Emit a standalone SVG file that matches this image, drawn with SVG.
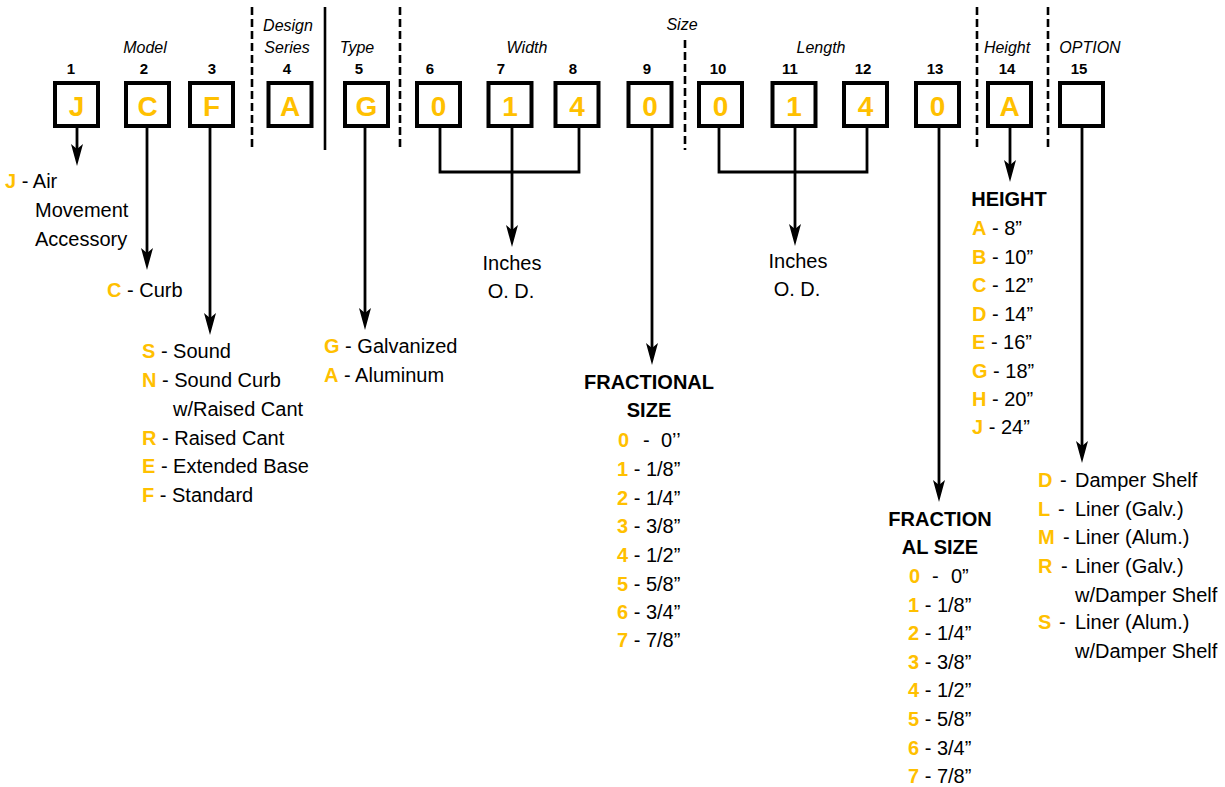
<svg xmlns="http://www.w3.org/2000/svg" width="1225" height="787" viewBox="0 0 1225 787">
<style>
text{font-family:"Liberation Sans",Arial,sans-serif;fill:#000}
.h{font-size:16px;font-style:italic;text-anchor:middle}
.n{font-size:15px;font-weight:bold;text-anchor:middle}
.bl{font-size:28px;font-weight:bold;fill:#FFC000;text-anchor:middle}
.box{fill:#fff;stroke:#000;stroke-width:4}
.t{font-size:20px}
.k{font-weight:bold;fill:#FFC000}
.b{font-size:20px;font-weight:bold;text-anchor:middle}
.c{font-size:20px;text-anchor:middle}
.ln{fill:none;stroke:#000;stroke-width:2.8}
.ar{fill:none;stroke:#000;stroke-width:2.8;marker-end:url(#ah)}
.sep{stroke:#000;stroke-width:2.6;stroke-dasharray:8 4}
.sol{stroke:#000;stroke-width:2.6}
</style>
<defs>
<marker id="ah" markerUnits="userSpaceOnUse" viewBox="0 -7 23 14" markerWidth="23" markerHeight="14" refX="5" refY="0" orient="auto">
<path d="M0,-6 L22,0 L0,6 L5,0 Z" fill="#000"/>
</marker>
</defs>
<rect width="1225" height="787" fill="#fff"/>

<g id="separators">
<line class="sep" x1="252" y1="7" x2="252" y2="150"/>
<line class="sol" x1="325" y1="7" x2="325" y2="150"/>
<line class="sep" x1="400" y1="7" x2="400" y2="150"/>
<line class="sep" x1="685" y1="40" x2="685" y2="150"/>
<line class="sep" x1="977" y1="7" x2="977" y2="148"/>
<line class="sep" x1="1048" y1="7" x2="1048" y2="148"/>
</g>

<g id="headers">
<text class="h" x="145" y="53">Model</text>
<text class="h" x="288" y="31">Design</text>
<text class="h" x="287" y="53">Series</text>
<text class="h" x="357" y="53">Type</text>
<text class="h" x="682" y="30">Size</text>
<text class="h" x="527" y="53">Width</text>
<text class="h" x="821" y="53">Length</text>
<text class="h" x="1007" y="53">Height</text>
<text class="h" x="1090" y="53">OPTION</text>
</g>

<g id="connectors">
<line class="ar" x1="77" y1="126" x2="77" y2="149"/>
<line class="ar" x1="147" y1="126" x2="147" y2="253"/>
<line class="ar" x1="210" y1="126" x2="210" y2="318"/>
<line class="ar" x1="365" y1="126" x2="365" y2="313"/>
<polyline class="ln" points="440,126 440,172 579,172 579,126"/>
<line class="ar" x1="512" y1="126" x2="512" y2="230"/>
<line class="ar" x1="652" y1="126" x2="652" y2="348"/>
<polyline class="ln" points="719,126 719,172 867,172 867,126"/>
<line class="ar" x1="795" y1="126" x2="795" y2="229"/>
<line class="ar" x1="939" y1="126" x2="939" y2="485"/>
<line class="ar" x1="1010" y1="126" x2="1010" y2="165"/>
<line class="ar" x1="1082" y1="126" x2="1082" y2="446"/>
</g>

<g id="n1"><text class="n" x="71" y="74">1</text><rect class="box" x="55" y="83" width="43" height="43"/><text class="bl" x="76.5" y="116">J</text></g>
<g id="n2"><text class="n" x="144" y="74">2</text><rect class="box" x="126" y="83" width="43" height="43"/><text class="bl" x="147.5" y="116">C</text></g>
<g id="n3"><text class="n" x="212" y="74">3</text><rect class="box" x="190" y="83" width="43" height="43"/><text class="bl" x="211.5" y="116">F</text></g>
<g id="n4"><text class="n" x="287" y="74">4</text><rect class="box" x="268.5" y="83" width="43" height="43"/><text class="bl" x="290" y="116">A</text></g>
<g id="n5"><text class="n" x="359" y="74">5</text><rect class="box" x="345" y="83" width="43" height="43"/><text class="bl" x="366.5" y="116">G</text></g>
<g id="n6"><text class="n" x="430" y="74">6</text><rect class="box" x="417" y="83" width="43" height="43"/><text class="bl" x="438.5" y="116">0</text></g>
<g id="n7"><text class="n" x="501" y="74">7</text><rect class="box" x="488.5" y="83" width="43" height="43"/><text class="bl" x="510" y="116">1</text></g>
<g id="n8"><text class="n" x="573" y="74">8</text><rect class="box" x="555.5" y="83" width="43" height="43"/><text class="bl" x="577" y="116">4</text></g>
<g id="n9"><text class="n" x="647" y="74">9</text><rect class="box" x="628.5" y="83" width="43" height="43"/><text class="bl" x="650" y="116">0</text></g>
<g id="n10"><text class="n" x="718" y="74">10</text><rect class="box" x="699" y="83" width="43" height="43"/><text class="bl" x="720.5" y="116">0</text></g>
<g id="n11"><text class="n" x="790" y="74">11</text><rect class="box" x="772.5" y="83" width="43" height="43"/><text class="bl" x="794" y="116">1</text></g>
<g id="n12"><text class="n" x="863" y="74">12</text><rect class="box" x="844" y="83" width="43" height="43"/><text class="bl" x="865.5" y="116">4</text></g>
<g id="n13"><text class="n" x="935" y="74">13</text><rect class="box" x="916" y="83" width="43" height="43"/><text class="bl" x="937.5" y="116">0</text></g>
<g id="n14"><text class="n" x="1007" y="74">14</text><rect class="box" x="988" y="83" width="43" height="43"/><text class="bl" x="1009.5" y="116">A</text></g>
<g id="n15"><text class="n" x="1079" y="74">15</text><rect class="box" x="1060" y="83" width="43" height="43"/></g>

<g id="model-j">
<text class="t" x="5" y="188"><tspan class="k">J</tspan> - Air</text>
<text class="t" x="35" y="217">Movement</text>
<text class="t" x="35" y="246">Accessory</text>
</g>
<g id="model-c"><text class="t" x="107" y="297"><tspan class="k">C</tspan> - Curb</text></g>
<g id="model-f">
<text class="t" x="142" y="358"><tspan class="k">S</tspan> - Sound</text>
<text class="t" x="142" y="387"><tspan class="k">N</tspan> - Sound Curb</text>
<text class="t" x="173" y="416">w/Raised Cant</text>
<text class="t" x="142" y="445"><tspan class="k">R</tspan> - Raised Cant</text>
<text class="t" x="142" y="473"><tspan class="k">E</tspan> - Extended Base</text>
<text class="t" x="142" y="502"><tspan class="k">F</tspan> - Standard</text>
</g>
<g id="type-g">
<text class="t" x="324" y="353"><tspan class="k">G</tspan> - Galvanized</text>
<text class="t" x="324" y="382"><tspan class="k">A</tspan> - Aluminum</text>
</g>
<g id="width-od">
<text class="c" x="512" y="270">Inches</text>
<text class="c" x="511" y="298">O. D.</text>
</g>
<g id="length-od">
<text class="c" x="798" y="268">Inches</text>
<text class="c" x="797" y="296">O. D.</text>
</g>
<g id="frac1">
<text class="b" x="649" y="389">FRACTIONAL</text>
<text class="b" x="649" y="417">SIZE</text>
<text class="t" y="447"><tspan class="k" x="618">0</tspan><tspan x="643">-</tspan><tspan x="661">0’’</tspan></text>
<text class="t" x="617" y="476"><tspan class="k">1</tspan> - 1/8”</text>
<text class="t" x="617" y="505"><tspan class="k">2</tspan> - 1/4”</text>
<text class="t" x="617" y="533"><tspan class="k">3</tspan> - 3/8”</text>
<text class="t" x="617" y="562"><tspan class="k">4</tspan> - 1/2”</text>
<text class="t" x="617" y="591"><tspan class="k">5</tspan> - 5/8”</text>
<text class="t" x="617" y="619"><tspan class="k">6</tspan> - 3/4”</text>
<text class="t" x="617" y="647"><tspan class="k">7</tspan> - 7/8”</text>
</g>
<g id="frac2">
<text class="b" x="940" y="526">FRACTION</text>
<text class="b" x="940" y="554">AL SIZE</text>
<text class="t" y="583"><tspan class="k" x="909">0</tspan><tspan x="932">-</tspan><tspan x="951">0”</tspan></text>
<text class="t" x="908" y="612"><tspan class="k">1</tspan> - 1/8”</text>
<text class="t" x="908" y="640"><tspan class="k">2</tspan> - 1/4”</text>
<text class="t" x="908" y="669"><tspan class="k">3</tspan> - 3/8”</text>
<text class="t" x="908" y="697"><tspan class="k">4</tspan> - 1/2”</text>
<text class="t" x="908" y="726"><tspan class="k">5</tspan> - 5/8”</text>
<text class="t" x="908" y="755"><tspan class="k">6</tspan> - 3/4”</text>
<text class="t" x="908" y="783"><tspan class="k">7</tspan> - 7/8”</text>
</g>
<g id="height">
<text class="b" x="1009" y="206">HEIGHT</text>
<text class="t" x="972" y="235"><tspan class="k">A</tspan> - 8”</text>
<text class="t" x="972" y="264"><tspan class="k">B</tspan> - 10”</text>
<text class="t" x="972" y="292"><tspan class="k">C</tspan> - 12”</text>
<text class="t" x="972" y="321"><tspan class="k">D</tspan> - 14”</text>
<text class="t" x="972" y="349"><tspan class="k">E</tspan> - 16”</text>
<text class="t" x="972" y="378"><tspan class="k">G</tspan> - 18”</text>
<text class="t" x="972" y="406"><tspan class="k">H</tspan> - 20”</text>
<text class="t" x="972" y="434"><tspan class="k">J</tspan> - 24”</text>
</g>
<g id="options">
<text class="t" y="487"><tspan class="k" x="1038">D</tspan><tspan x="1060">-</tspan><tspan x="1075">Damper Shelf</tspan></text>
<text class="t" y="516"><tspan class="k" x="1038">L</tspan><tspan x="1058">-</tspan><tspan x="1075">Liner (Galv.)</tspan></text>
<text class="t" y="544"><tspan class="k" x="1038">M</tspan><tspan x="1063">-</tspan><tspan x="1075">Liner (Alum.)</tspan></text>
<text class="t" y="573"><tspan class="k" x="1038">R</tspan><tspan x="1061">-</tspan><tspan x="1075">Liner (Galv.)</tspan></text>
<text class="t" x="1075" y="602">w/Damper Shelf</text>
<text class="t" y="629"><tspan class="k" x="1038">S</tspan><tspan x="1059">-</tspan><tspan x="1075">Liner (Alum.)</tspan></text>
<text class="t" x="1075" y="658">w/Damper Shelf</text>
</g>
</svg>
